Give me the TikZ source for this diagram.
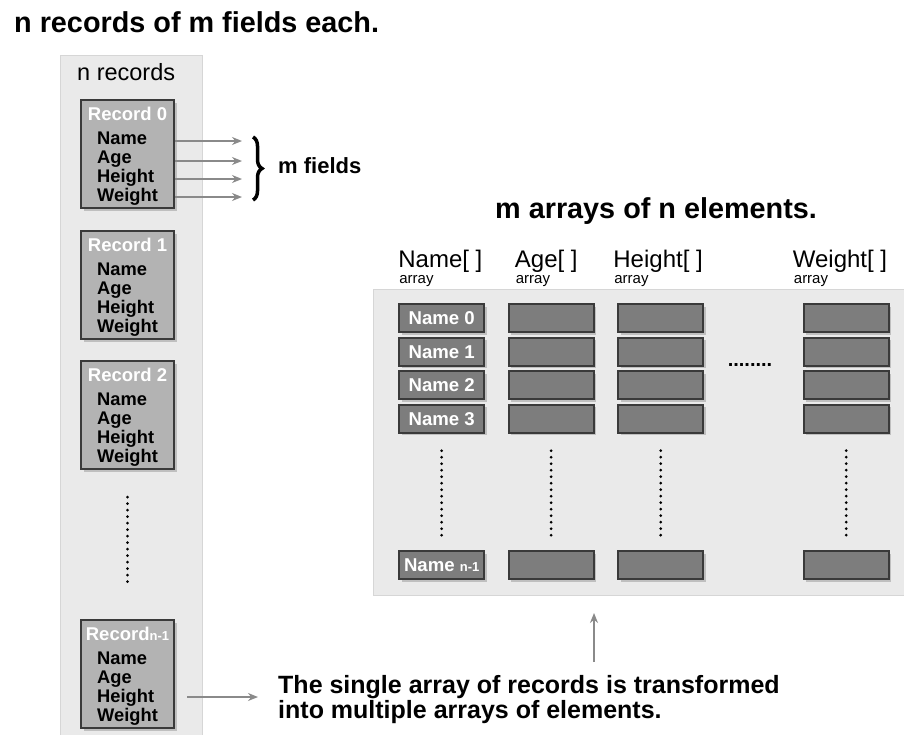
\documentclass[tikz,border=0pt]{standalone}
\usepackage{fontspec}
\setmainfont{Liberation Sans}
\usepackage{tikz}
\usetikzlibrary{matrix}
\usetikzlibrary{positioning}
\usetikzlibrary{shadows}
\usetikzlibrary{arrows.meta}
\usetikzlibrary{decorations.pathreplacing}

\definecolor{panelgray}{HTML}{EAEAEA}
\definecolor{panelline}{HTML}{D6D6D6}
\definecolor{recfill}{HTML}{B3B3B3}
\definecolor{cellfill}{HTML}{7D7D7D}
\definecolor{boxline}{HTML}{3A3A3A}
\definecolor{arrowgray}{HTML}{8A8A8A}

\begin{document}
\begin{tikzpicture}[x=1pt,y=-1pt,
	panel/.style={draw=panelline,fill=panelgray,line width=1pt,anchor=north west,inner sep=0pt},
	recbox/.style={draw=boxline,fill=recfill,line width=2pt,minimum width=93pt,minimum height=108pt,inner sep=0pt,drop shadow={shadow xshift=2.5pt,shadow yshift=-2.5pt,opacity=.4}},
	rectitle/.style={text=white,font=\fontsize{18.5}{19}\selectfont\bfseries,inner sep=0pt},
	recfields/.style={align=left,font=\fontsize{18.3}{19}\selectfont\bfseries,inner sep=0pt},
	cellbox/.style={draw=boxline,fill=cellfill,line width=2pt,minimum width=85pt,minimum height=28pt,inner sep=0pt,text=white,font=\fontsize{18.6}{19}\selectfont\bfseries,drop shadow={shadow xshift=2.5pt,shadow yshift=-2.5pt,opacity=.4}},
	bigtitle/.style={font=\fontsize{28.8}{30}\selectfont\bfseries,inner sep=0pt},
	arrhead/.style={font=\fontsize{24}{26}\selectfont,inner sep=0pt},
	arrsub/.style={font=\fontsize{15}{16}\selectfont,inner sep=0pt},
	flow/.style={draw=arrowgray,line width=1.5pt,-{Stealth[length=10pt,width=8pt]}},
	dotline/.style={line width=3pt,line cap=round,dash pattern=on 0pt off 6.5pt},
	fieldbrace/.style={decorate,decoration={brace,amplitude=9pt},line width=3.5pt}
]
	\useasboundingbox (0,0) rectangle (904,734);

	% panels
	\node[panel,minimum width=142pt,minimum height=684pt] (lpanel) at (60,55) {};
	\node[panel,minimum width=535pt,minimum height=306pt] (rpanel) at (373,289) {};

	\node[bigtitle,anchor=base west] (title1) at (14,32) {n records of m fields each.};
	\node[bigtitle,anchor=base west] (title2) at (495,218) {m arrays of n elements.};

	% the records
	\node[anchor=base west,inner sep=0pt,font=\fontsize{23.5}{24}\selectfont] (nrec) at (77,80) {n records};

	\node[recbox,anchor=north west] (rec0) at (80,99) {};
	\node[rectitle,anchor=base] (rec0-t) at ([yshift=-21pt]rec0.north) {Record 0};
	\node[recfields,anchor=north west] (rec0-f) at ([shift={(17pt,-33pt)}]rec0.north west) {Name\\Age\\Height\\Weight};

	\node[recbox,below=21pt of rec0] (rec1) {};
	\node[rectitle,anchor=base] (rec1-t) at ([yshift=-21pt]rec1.north) {Record 1};
	\node[recfields,anchor=north west] (rec1-f) at ([shift={(17pt,-33pt)}]rec1.north west) {Name\\Age\\Height\\Weight};

	\node[recbox,below=20pt of rec1] (rec2) {};
	\node[rectitle,anchor=base] (rec2-t) at ([yshift=-21pt]rec2.north) {Record 2};
	\node[recfields,anchor=north west] (rec2-f) at ([shift={(17pt,-33pt)}]rec2.north west) {Name\\Age\\Height\\Weight};

	\node[recbox,below=149pt of rec2] (rec3) {};
	\node[rectitle,anchor=base] (rec3-t) at ([yshift=-21pt]rec3.north) {Record{\fontsize{13}{13}\selectfont n-1}};
	\node[recfields,anchor=north west] (rec3-f) at ([shift={(17pt,-33pt)}]rec3.north west) {Name\\Age\\Height\\Weight};

	\draw[dotline,shorten <=27pt,shorten >=33pt] (rec2.south) -- (rec3.north);

	% m fields
	\coordinate (fld1) at (242,141);
	\coordinate (fld2) at (242,161);
	\coordinate (fld3) at (242,179);
	\coordinate (fld4) at (242,197);
	\draw[flow] (rec0.east |- fld1) -- (fld1);
	\draw[flow] (rec0.east |- fld2) -- (fld2);
	\draw[flow] (rec0.east |- fld3) -- (fld3);
	\draw[flow] (rec0.east |- fld4) -- (fld4);
	\draw[fieldbrace] (253,137) -- (253,200);
	\node[anchor=base west,inner sep=0pt,font=\fontsize{22}{24}\selectfont\bfseries] (mfields) at (278,173) {m fields};

	% the arrays
	\matrix (arrays) [matrix of nodes,nodes in empty cells,inner sep=0pt,row sep=3.5pt,column sep=22.5pt,nodes={cellbox,anchor=center},anchor=north west] at (398,303) {
		Name 0 & & &[76pt] \\
		Name 1 & & & \\
		Name 2 & & & \\
		Name 3 & & & \\[113pt]
		Name {\fontsize{13}{13}\selectfont n-1} & & & \\
	};

	\node[arrhead,anchor=base west] (namehead) at ([yshift=36pt]arrays-1-1.north west) {Name[ ]};
	\node[arrhead,anchor=base west] (agehead) at ([shift={(7pt,36pt)}]arrays-1-2.north west) {Age[ ]};
	\node[arrhead,anchor=base west] (heighthead) at ([shift={(-4pt,36pt)}]arrays-1-3.north west) {Height[ ]};
	\node[arrhead,anchor=base west] (weighthead) at ([shift={(-10pt,36pt)}]arrays-1-4.north west) {Weight[ ]};
	\node[arrsub,anchor=base west] (namesub) at ([shift={(1pt,-16pt)}]namehead.base west) {array};
	\node[arrsub,anchor=base west] (agesub) at ([shift={(1pt,-16pt)}]agehead.base west) {array};
	\node[arrsub,anchor=base west] (heightsub) at ([shift={(1pt,-16pt)}]heighthead.base west) {array};
	\node[arrsub,anchor=base west] (weightsub) at ([shift={(1pt,-16pt)}]weighthead.base west) {array};

	\draw[dotline,shorten <=17pt,shorten >=12pt] (arrays-4-1.south) -- (arrays-5-1.north);
	\draw[dotline,shorten <=17pt,shorten >=12pt] (arrays-4-2.south) -- (arrays-5-2.north);
	\draw[dotline,shorten <=17pt,shorten >=12pt] (arrays-4-3.south) -- (arrays-5-3.north);
	\draw[dotline,shorten <=17pt,shorten >=12pt] (arrays-4-4.south) -- (arrays-5-4.north);
	\node[anchor=base,inner sep=0pt,font=\fontsize{20}{20}\selectfont\bfseries] (hdots) at (750,366) {........};

	% transformation
	\node[anchor=north west,align=left,inner sep=0pt,font=\fontsize{25}{25}\selectfont\bfseries] (note) at (278,675) {The single array of records is transformed\\into multiple arrays of elements.};
	\coordinate (notefrom) at (187,697);
	\draw[flow,shorten >=20pt] (notefrom) -- (notefrom -| note.west);
	\coordinate (upfoot) at (594,662);
	\draw[flow,shorten >=17pt] (upfoot) -- (upfoot |- rpanel.south);
\end{tikzpicture}
\end{document}
